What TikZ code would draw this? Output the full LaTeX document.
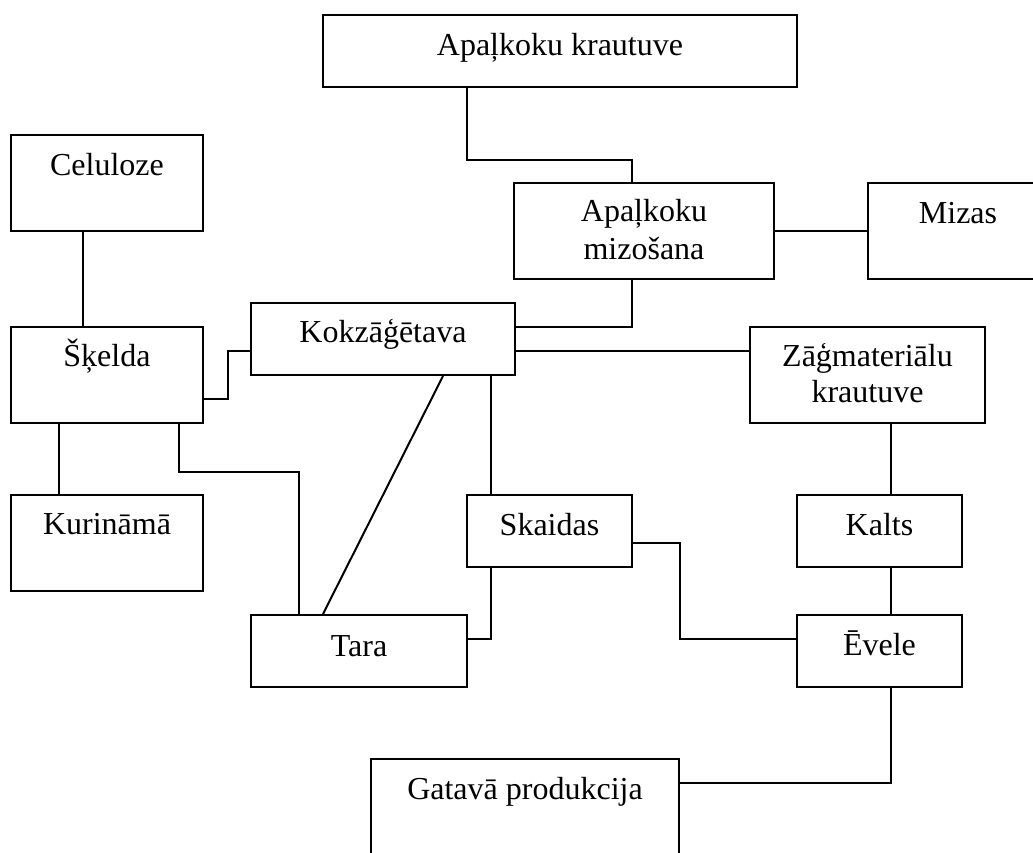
\documentclass[tikz,border=0pt]{standalone}
\usepackage{fontspec}
\setmainfont{Liberation Serif}
\begin{document}
\begin{tikzpicture}[x=1pt,y=-1pt,line width=2pt,
  box/.style={draw,rectangle,inner sep=0pt},
  txt/.style={anchor=base,inner sep=0pt,font=\fontsize{32}{37}\selectfont}]
\useasboundingbox (0,0) rectangle (1033,852);
\clip (0,0) rectangle (1033,852);
% boxes
\node[box,minimum width=474,minimum height=72] (akr) at (560,51) {};
\node[box,minimum width=192,minimum height=96] (cel) at (107,183) {};
\node[box,minimum width=260,minimum height=96] (miz) at (644,231) {};
\node[box,minimum width=180,minimum height=96] (mizas) at (958,231) {};
\node[box,minimum width=264,minimum height=72] (kok) at (383,339) {};
\node[box,minimum width=192,minimum height=96] (skel) at (107,375) {};
\node[box,minimum width=235,minimum height=96] (zag) at (867.5,375) {};
\node[box,minimum width=192,minimum height=96] (kur) at (107,543) {};
\node[box,minimum width=165,minimum height=72] (ska) at (549.5,531) {};
\node[box,minimum width=165,minimum height=72] (kal) at (879.5,531) {};
\node[box,minimum width=216,minimum height=72] (tara) at (359,651) {};
\node[box,minimum width=165,minimum height=72] (eve) at (879.5,651) {};
\node[box,minimum width=308,minimum height=100] (gat) at (525,809) {};
% texts
\node[txt] (takr) at ([yshift=-41]akr.north) {Apaļkoku krautuve};
\node[txt] (tcel) at ([yshift=-41]cel.north) {Celuloze};
\node[txt] (tmiz1) at ([yshift=-39]miz.north) {Apaļkoku};
\node[txt] (tmiz2) at ([yshift=-77]miz.north) {mizošana};
\node[txt] (tmizas) at ([yshift=-41]mizas.north) {Mizas};
\node[txt] (tkok) at ([yshift=-40]kok.north) {Kokzāģētava};
\node[txt] (tskel) at ([yshift=-40]skel.north) {Šķelda};
\node[txt] (tzag1) at ([yshift=-40]zag.north) {Zāģmateriālu};
\node[txt] (tzag2) at ([yshift=-76]zag.north) {krautuve};
\node[txt] (tkur) at ([yshift=-40]kur.north) {Kurināmā};
\node[txt] (tska) at ([yshift=-41]ska.north) {Skaidas};
\node[txt] (tkal) at ([yshift=-41]kal.north) {Kalts};
\node[txt] (ttara) at ([yshift=-42]tara.north) {Tara};
\node[txt] (teve) at ([yshift=-41]eve.north) {Ēvele};
\node[txt] (tgat) at ([yshift=-41]gat.north) {Gatavā produkcija};
% connectors
\draw ([xshift=-93]akr.south) -- ++(0,72) -| ([xshift=-12]miz.north);
\draw ([xshift=-24]cel.south) -- ([xshift=-24]skel.north);
\draw ([yshift=-24]skel.east) -- ++(24,0) |- ([yshift=-12]kok.west);
\draw ([xshift=-12]miz.south) |- ([yshift=12]kok.east);
\draw (miz.east) -- (mizas.west);
\draw ([yshift=-12]kok.east) -- ([yshift=24]zag.west);
\draw ([xshift=60]kok.south) -- ([xshift=-36]tara.north);
\draw ([xshift=108]kok.south) -- ([xshift=-58.5]ska.north);
\draw ([xshift=-48]skel.south) -- ([xshift=-48]kur.north);
\draw ([xshift=72]skel.south) -- ++(0,48) -| ([xshift=-60]tara.north);
\draw ([xshift=-58.5]ska.south) |- ([yshift=12]tara.east);
\draw ([yshift=-12]ska.east) -- ++(47,0) |- ([yshift=12]eve.west);
\draw ([xshift=23.5]zag.south) -- ([xshift=11.5]kal.north);
\draw ([xshift=11.5]kal.south) -- ([xshift=11.5]eve.north);
\draw ([xshift=11.5]eve.south) |- ([yshift=26]gat.east);
\end{tikzpicture}
\end{document}
